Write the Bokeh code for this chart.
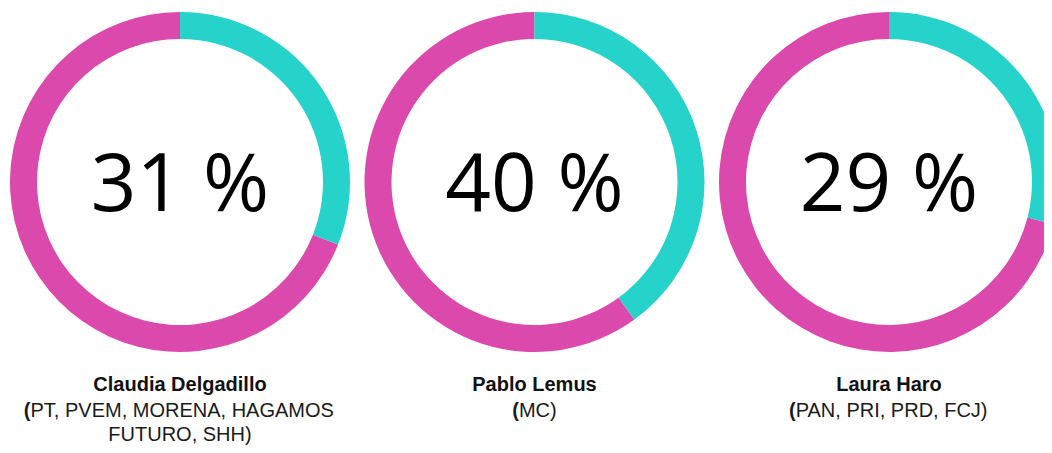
from bokeh.plotting import figure
from bokeh.models import Range1d, ColumnDataSource
from bokeh.core.properties import value
from bokeh.embed import file_html
from bokeh.resources import INLINE
import math

# ---- data ----
candidates = ["Claudia Delgadillo", "Pablo Lemus", "Laura Haro"]
parties = [["(PT, PVEM, MORENA, HAGAMOS", "FUTURO, SHH)"], ["(MC)"], ["(PAN, PRI, PRD, FCJ)"]]
percent = [31, 40, 29]

TEAL = "#26D3CA"
MAGENTA = "#DC49AD"

W, H = 1044, 445
p = figure(width=W, height=H, output_backend="svg", toolbar_location=None,
           x_range=Range1d(0, W), y_range=Range1d(0, H),
           min_border=0, outline_line_color=None)
p.axis.visible = False
p.grid.visible = False
p.background_fill_color = "white"
p.border_fill_color = "white"


def Y(img_y):
    return H - img_y


def base(img_y, size):
    # compensate baseline offset of svg text
    return Y(img_y - 0.42 * size)


# Arial / Liberation Sans regular advance widths (per 1000 em)
ARIAL = {" ": 278, "(": 333, ")": 333, ",": 278, "A": 667, "C": 722, "D": 722, "E": 667,
         "F": 611, "G": 778, "H": 722, "I": 278, "J": 500, "M": 833, "N": 722, "O": 778,
         "P": 667, "R": 722, "S": 667, "T": 611, "U": 722, "V": 667}


def text_width(s, size):
    return sum(ARIAL.get(c, 600) for c in s) * size / 1000.0


cx = [179.5 + i * 354.5 for i in range(len(percent))]
cy = [Y(181.5)] * len(percent)
frac = [v / 100 for v in percent]

teal_src = ColumnDataSource(dict(x=cx, y=cy,
                                 start=[math.pi / 2 - f * 2 * math.pi for f in frac],
                                 end=[math.pi / 2] * len(frac)))
mag_src = ColumnDataSource(dict(x=cx, y=cy,
                                start=[math.pi / 2] * len(frac),
                                end=[math.pi / 2 - f * 2 * math.pi for f in frac]))

for src, col in ((mag_src, MAGENTA), (teal_src, TEAL)):
    p.annular_wedge(x="x", y="y", inner_radius=143, outer_radius=170,
                    inner_radius_units="screen", outer_radius_units="screen",
                    start_angle="start", end_angle="end", direction="anticlock",
                    fill_color=col, line_color=None, source=src)

# center percentage text
p.text(x=cx, y=[base(213, 80)] * 3, text=[f"{v} %" for v in percent],
       text_font=value("Open Sans"), text_font_size="80px", text_color="#000000",
       text_align="center", text_baseline="alphabetic")

# names
NAME_FS = 20
p.text(x=cx, y=[base(392, NAME_FS)] * 3, text=candidates,
       text_font=value("Liberation Sans"), text_font_style="bold",
       text_font_size=f"{NAME_FS}px",
       text_color="#111111", text_align="center", text_baseline="alphabetic")

# party lines (opening parenthesis drawn bold as in the reference)
PFS = 20
cx_c, py_c, pt_c = [], [], []      # centered lines without bold paren
lx, ly, lt = [], [], []            # left-aligned remainder after bold paren
bx, by = [], []                    # bold paren positions
for i, lines in enumerate(parties):
    for j, line in enumerate(lines):
        yy = base(418 + j * 24, PFS)
        if line.startswith("("):
            w = text_width(line, PFS)
            x0 = cx[i] - w / 2
            bx.append(x0)
            by.append(yy)
            lx.append(x0 + text_width("(", PFS))
            ly.append(yy)
            lt.append(line[1:])
        else:
            cx_c.append(cx[i])
            py_c.append(yy)
            pt_c.append(line)

common = dict(text_font=value("Liberation Sans"), text_font_size=f"{PFS}px",
              text_color="#1a1a1a", text_baseline="alphabetic")
p.text(x=cx_c, y=py_c, text=pt_c, text_align="center", **common)
p.text(x=lx, y=ly, text=lt, text_align="left", **common)
p.text(x=bx, y=by, text=["("] * len(bx), text_align="left", text_font_style="bold", **common)

open("out.html", "w").write(file_html(p, INLINE))
